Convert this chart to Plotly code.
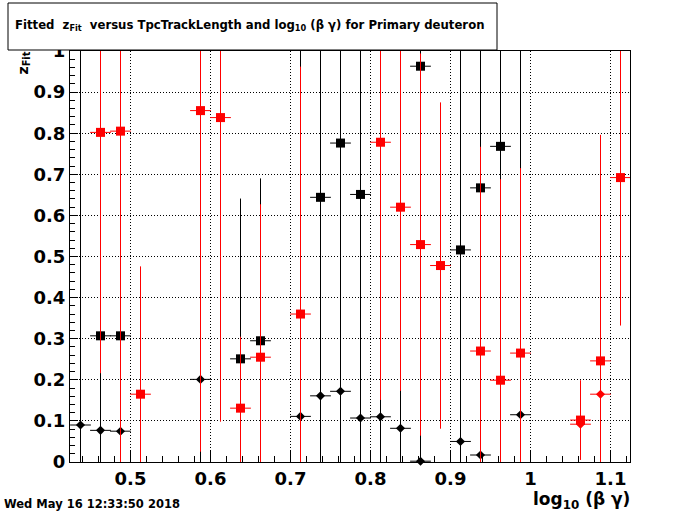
import plotly.graph_objects as go

# ---- data (log10(beta*gamma) bin centres, fitted z values, errors) ----
blk_sq_x = [0.4625, 0.4875, 0.6375, 0.6625, 0.7375, 0.7625, 0.7875, 0.8625, 0.9125, 0.9375, 0.9625]
blk_sq_y = [0.307, 0.307, 0.251, 0.295, 0.644, 0.776, 0.651, 0.963, 0.516, 0.667, 0.768]
blk_sq_e = [0.35, 0.30, 0.39, 0.395, 0.70, 0.80, 0.70, 0.10, 0.60, 0.45, 0.40]

blk_di_x = [0.4375, 0.4625, 0.4875, 0.5875, 0.7125, 0.7375, 0.7625, 0.7875, 0.8125, 0.8375, 0.8625, 0.9125, 0.9375, 0.9875]
blk_di_y = [0.090, 0.077, 0.075, 0.201, 0.111, 0.161, 0.172, 0.107, 0.110, 0.082, 0.002, 0.050, 0.017, 0.115]
blk_di_e = [1.00, 0.15, 0.10, 0.25, 0.95, 0.30, 0.30, 0.20, 0.15, 0.15, 0.08, 0.10, 0.10, 0.90]

red_sq_x = [0.4625, 0.4875, 0.5125, 0.5875, 0.6125, 0.6375, 0.6625, 0.7125, 0.8125, 0.8375,
            0.8625, 0.8875, 0.9375, 0.9625, 0.9875, 1.0625, 1.0875, 1.1125]
red_sq_y = [0.802, 0.805, 0.165, 0.855, 0.838, 0.131, 0.255, 0.360, 0.778, 0.620,
            0.529, 0.478, 0.270, 0.199, 0.265, 0.102, 0.246, 0.692]
red_sq_e = [0.586, 0.90, 0.311, 0.83, 0.74, 0.174, 0.372, 0.602, 0.627, 0.447,
            0.465, 0.397, 0.497, 0.489, 0.45, 0.097, 0.55, 0.36]

red_di_x = [1.0625, 1.0875]
red_di_y = [0.092, 0.165]
red_di_e = [0.05, 0.30]

x_half_width = 0.013
x_range = [0.424375, 1.124375]
y_range = [0, 1]

FONT = "DejaVu Sans"

fig = go.Figure()


def add_series(xs, ys, es, color, symbol, size):
    # error bars (clipped to the frame)
    fig.add_trace(go.Scatter(
        x=xs, y=ys, mode="markers",
        marker=dict(size=size, color=color, opacity=0),
        error_y=dict(type="data", array=es, color=color, thickness=1, width=0),
        error_x=dict(type="constant", value=x_half_width, color=color, thickness=1, width=0),
        showlegend=False, hoverinfo="skip"))
    # markers
    fig.add_trace(go.Scatter(
        x=xs, y=ys, mode="markers",
        marker=dict(size=size, color=color, symbol=symbol, line=dict(width=0)),
        cliponaxis=False, showlegend=False))


add_series(blk_sq_x, blk_sq_y, blk_sq_e, "black", "square", 9)
add_series(blk_di_x, blk_di_y, blk_di_e, "black", "diamond", 7)
add_series(red_sq_x, red_sq_y, red_sq_e, "#ff0000", "square", 9)
add_series(red_di_x, red_di_y, red_di_e, "#ff0000", "diamond", 7)

axis_common = dict(
    showline=True, linecolor="black", linewidth=1, mirror=True,
    ticks="inside", tickcolor="black", tickwidth=1,
    showgrid=True, gridcolor="black", gridwidth=1, griddash="1px,2px",
    zeroline=False,
    tickfont=dict(family=FONT, size=18, color="black", weight="bold"),
)

fig.update_xaxes(range=x_range, tick0=0, dtick=0.1, ticklen=12,
                 minor=dict(dtick=0.02, ticks="inside", ticklen=6, tickcolor="black", showgrid=False),
                 **axis_common)
fig.update_yaxes(range=y_range, tick0=0, dtick=0.1, ticklen=8,
                 minor=dict(dtick=0.02, ticks="inside", ticklen=5, tickcolor="black", showgrid=False),
                 **axis_common)


def px(xp):
    return (xp - 70) / 560.0


def py(yp):
    return (462 - yp) / 411.0


# title box
fig.add_shape(type="rect", xref="paper", yref="paper",
              x0=px(8), x1=px(497), y0=py(50), y1=py(3),
              fillcolor="white", line=dict(color="black", width=1), layer="above")

fig.add_annotation(
    xref="paper", yref="paper", x=px(249), y=py(25), xanchor="center", yanchor="middle",
    text="Fitted \u00a0z<sub>Fit</sub> \u00a0versus TpcTrackLength and log<sub>10</sub> (β γ) for Primary deuteron",
    showarrow=False, font=dict(family=FONT, size=11.7, color="black", weight="bold"))

# y axis title
fig.add_annotation(
    xref="paper", yref="paper", x=px(24), y=py(50), xanchor="center", yanchor="top",
    text="z<sub>Fit</sub>", textangle=-90, showarrow=False,
    font=dict(family=FONT, size=14, color="black", weight="bold"))

# x axis title
fig.add_annotation(
    xref="paper", yref="paper", x=px(632), y=py(500), xanchor="right", yanchor="middle",
    text="log<sub>10</sub> (β γ)", showarrow=False,
    font=dict(family=FONT, size=17, color="black", weight="bold"))

# date stamp
fig.add_annotation(
    xref="paper", yref="paper", x=px(2), y=py(504), xanchor="left", yanchor="middle",
    text="Wed May 16 12:33:50 2018", showarrow=False,
    font=dict(family=FONT, size=11.5, color="black", weight="bold"))

fig.update_layout(
    width=700, height=514,
    margin=dict(l=70, r=70, t=51, b=52),
    paper_bgcolor="white", plot_bgcolor="white",
    showlegend=False,
)

fig.write_html("out.html", config={"displayModeBar": False},
               post_script="document.body.style.margin='0';")
